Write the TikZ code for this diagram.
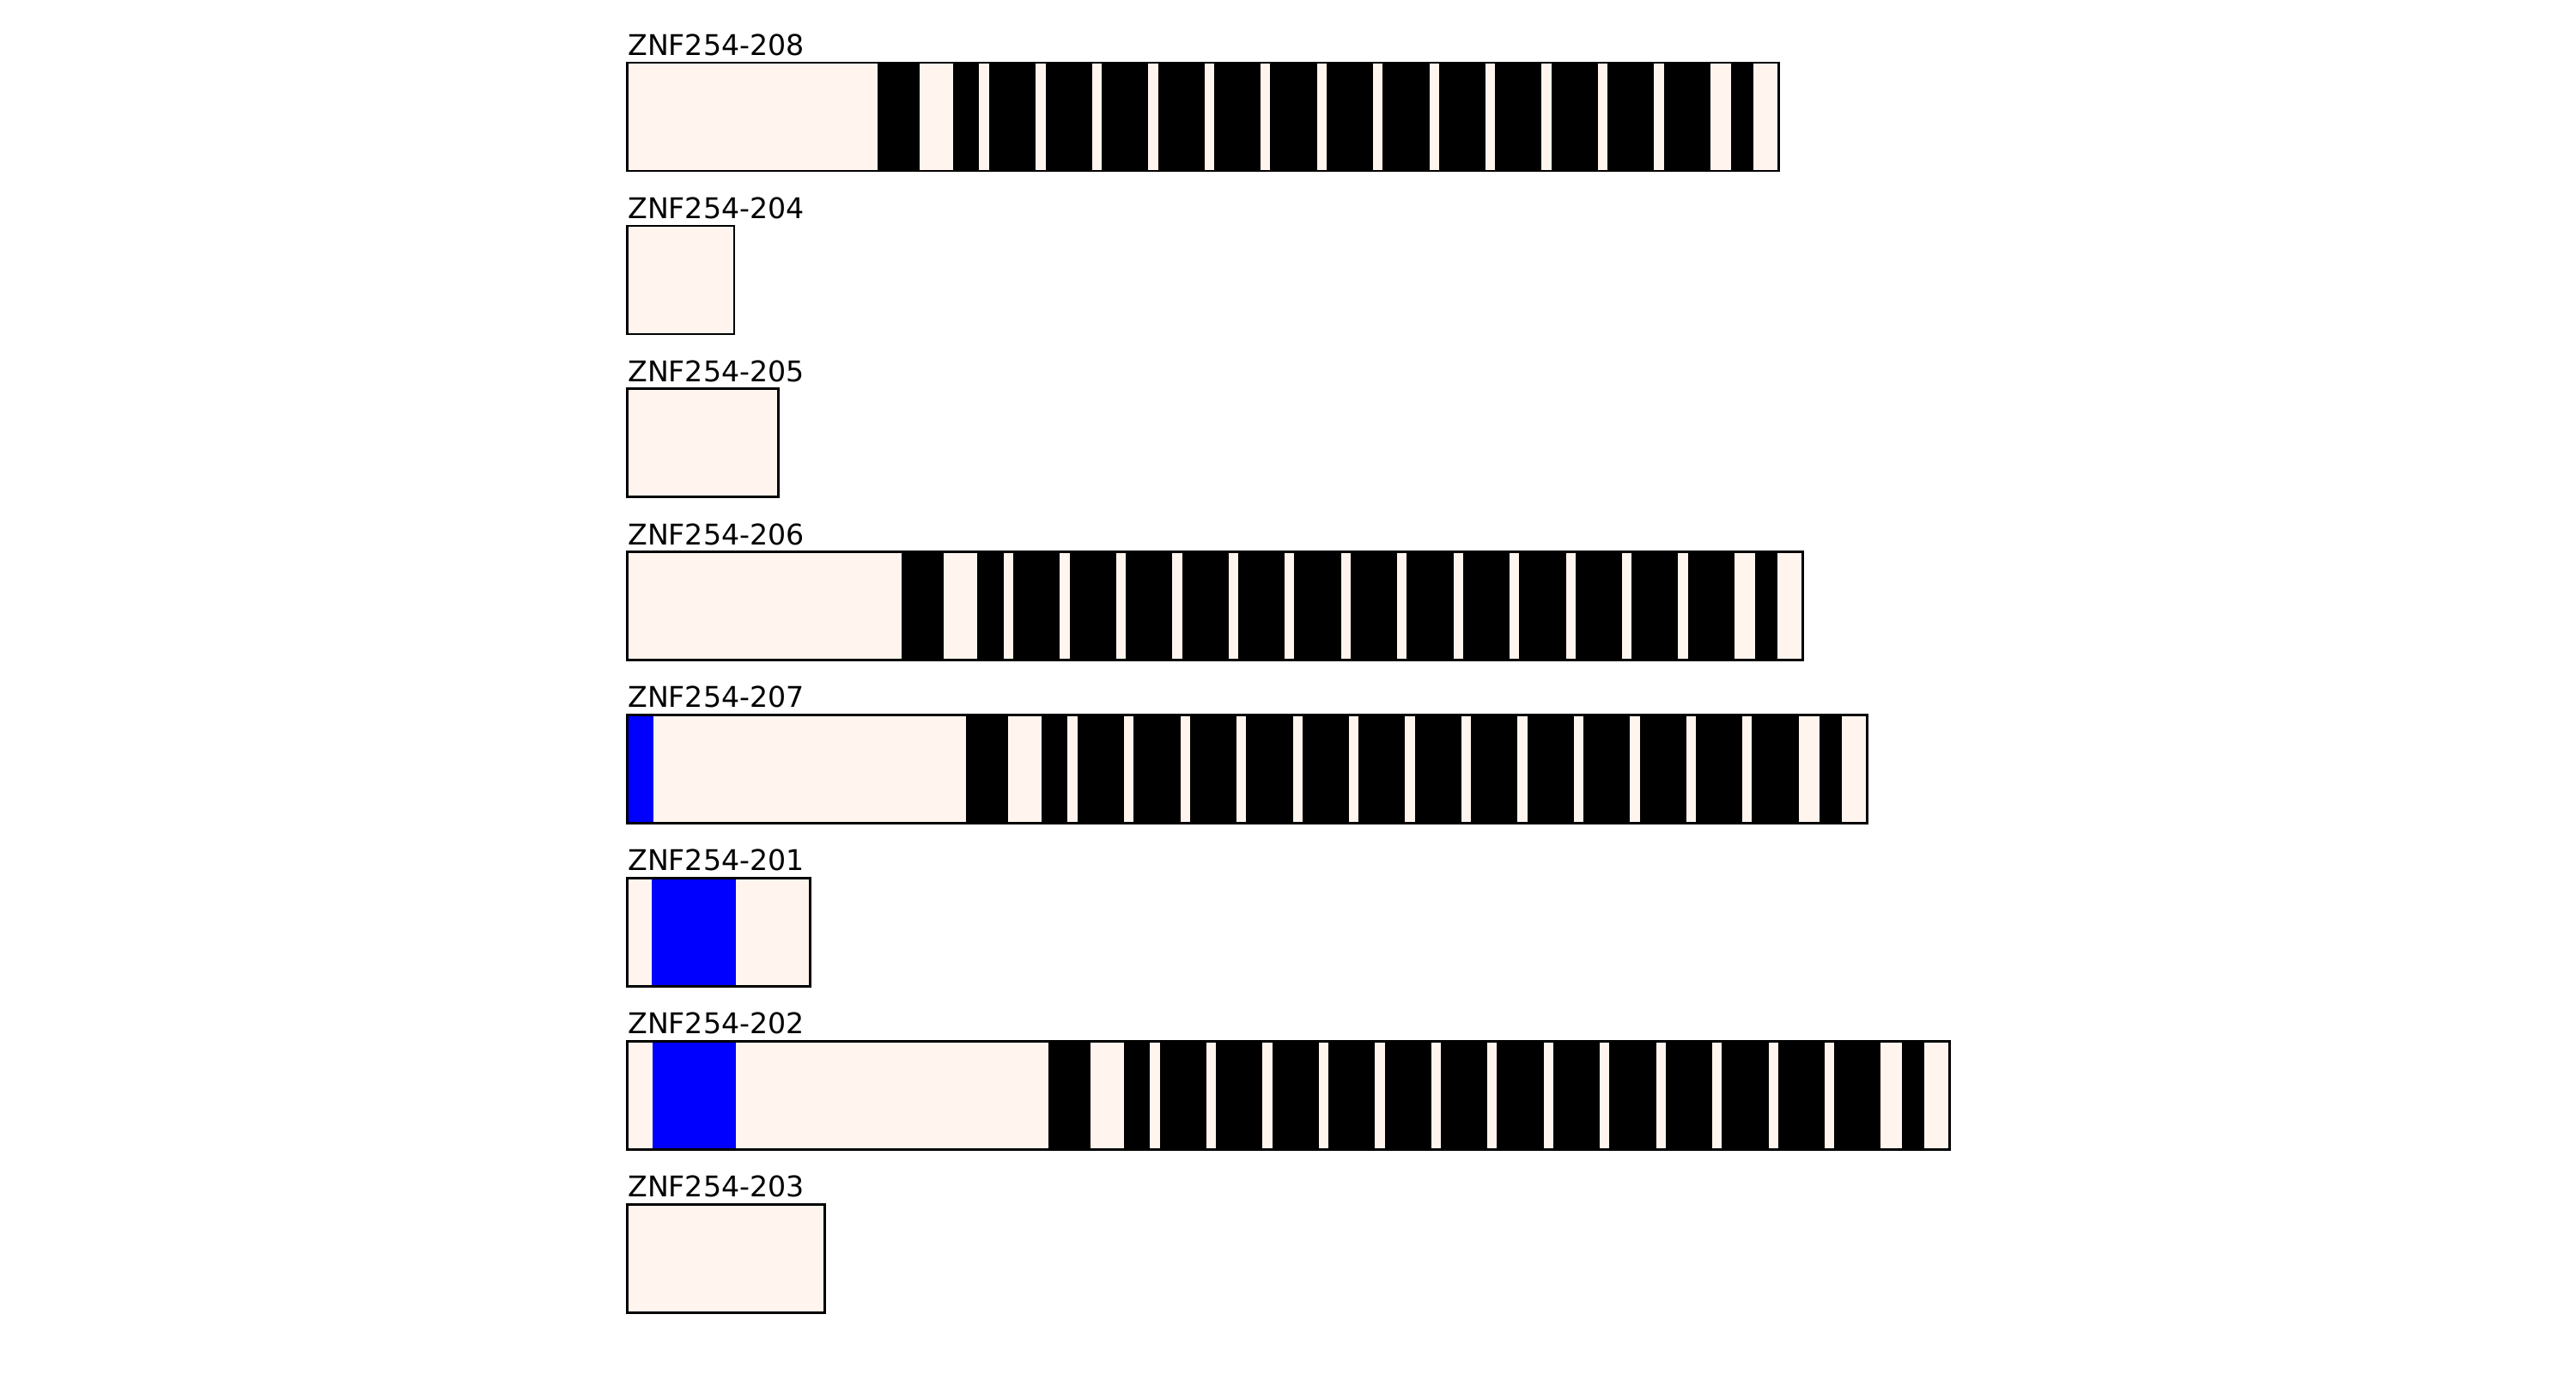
\documentclass[tikz,border=0pt]{standalone}
\usepackage{fontspec}
\setmainfont{DejaVu Sans}
\usepackage{tikz}
\usetikzlibrary{positioning}
\definecolor{fundoProt}{RGB}{255,245,238}
\definecolor{azulKRAB}{RGB}{0,0,255}
\tikzset{
  proteina/.style={fill=fundoProt},
  contorno/.style={draw=black, line width=1pt},
  dedo/.style={fill=black},
  krab/.style={fill=azulKRAB},
  rotulo/.style={anchor=base west, inner sep=0pt, font=\fontsize{12}{14}\selectfont},
}
% dedos de zinco C2H2: #1 = deslocamento (aa), #2 = linha
\newcommand{\dedosZnF}[2]{%
  \begin{scope}[shift={(#1,73+189.9*#2)}]
    \fill[dedo] (124.7,0) rectangle (145.7,126);
    \fill[dedo] (162.4,0) rectangle (175.4,126);
    \foreach \k in {0,...,12}
      \fill[dedo] ({180.4+28.02*\k},0) rectangle ({203.6+28.02*\k},126);
    \fill[dedo] (550.2,0) rectangle (561.4,126);
  \end{scope}}

\begin{document}
\begin{tikzpicture}[x=0.8441pt, y=-0.36135pt]
  \useasboundingbox (-312.8,0) rectangle (971.4,1600);
  % fundo das isoformas e rotulos
  \foreach \nome/\i/\comp in {208/0/574, 204/1/53.2, 205/2/75.3, 206/3/586,
                              207/4/618, 201/5/91.2, 202/6/659, 203/7/98.4}{
    \fill[proteina] (0,73+189.9*\i) rectangle ++(\comp,126);
    \node[rotulo] (r\nome) at (0,64.3+189.9*\i) {ZNF254-\nome};
  }
  % dominios KRAB
  \fill[krab] (0,73+189.9*4) rectangle ++(12.9,126);
  \fill[krab] (11.9,73+189.9*5) rectangle (54,73+189.9*5+126);
  \fill[krab] (12.5,73+189.9*6) rectangle (54,73+189.9*6+126);
  % dedos de zinco
  \dedosZnF{0}{0}
  \dedosZnF{12}{3}
  \dedosZnF{44}{4}
  \dedosZnF{85}{6}
  % contornos
  \foreach \i/\comp in {0/574, 1/53.2, 2/75.3, 3/586, 4/618, 5/91.2, 6/659, 7/98.4}
    \draw[contorno] (0,73+189.9*\i) rectangle ++(\comp,126);
\end{tikzpicture}
\end{document}
